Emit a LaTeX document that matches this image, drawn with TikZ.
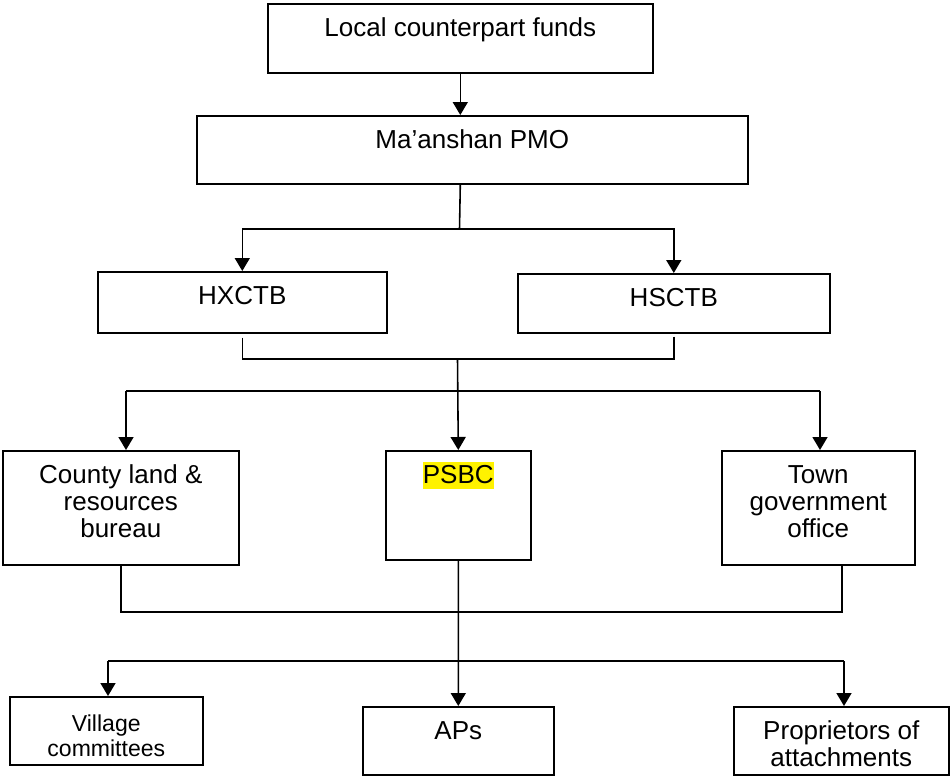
\documentclass[tikz,border=0pt]{standalone}
\usepackage{fontspec}
\setmainfont{Liberation Sans}
\usepackage{xcolor}
\usetikzlibrary{arrows.meta}

% text box with its first line at a fixed depth below the top edge
\newcommand{\boxtxt}[4][0.65cm]{\parbox[t][#3][t]{#2}{\centering\rule{0pt}{#1}#4}}

\begin{document}
\begin{tikzpicture}[
  box/.style = {draw, line width=0.9pt, inner sep=0pt, anchor=north west},
  link/.style = {line width=0.9pt},
  arr/.style = {link, -{Triangle[width=0.3cm,length=0.26cm]}},
  font = \fontsize{14.8pt}{15.4pt}\selectfont
]
% Fix the page size
\useasboundingbox (0,0) rectangle (19,-15.5);

% Funds and PMO
\node[box] (funds) at (5.34,-0.06) {\boxtxt{7.70cm}{1.38cm}{Local counterpart funds}};
\node[box] (pmo) at (3.92,-2.30) {\boxtxt{11.02cm}{1.36cm}{Ma’anshan PMO}};

% The two bureaus
\node[box] (hxctb) at (1.94,-5.42) {\boxtxt{5.78cm}{1.22cm}{HXCTB}};
\node[box] (hsctb) at (10.34,-5.46) {\boxtxt{6.24cm}{1.18cm}{HSCTB}};

% Middle row
\node[box] (county) at (0.04,-9.00) {\boxtxt{4.72cm}{2.28cm}{County land \&\\ resources\\ bureau}};
\node[box] (psbc) at (7.70,-9.00) {\boxtxt{2.90cm}{2.18cm}{\setlength{\fboxsep}{0pt}\colorbox{yellow}{\rule[-0.11cm]{0pt}{0.54cm}PSBC}}};
\node[box] (town) at (14.42,-9.00) {\boxtxt{3.86cm}{2.28cm}{Town\\ government\\ office}};

% Bottom row
\node[box] (village) at (0.18,-13.92) {\fontsize{13.1pt}{14.2pt}\selectfont\boxtxt[0.70cm]{3.86cm}{1.36cm}{Village\\ committees}};
\node[box] (aps) at (7.24,-14.12) {\boxtxt{3.82cm}{1.36cm}{APs}};
\node[box] (propr) at (14.66,-14.12) {\boxtxt{4.30cm}{1.36cm}{Proprietors of\\ attachments}};

% Funds to PMO
\draw[arr] (funds.south) -- (funds.south |- pmo.north);

% PMO to the bureaus
\coordinate (split) at (9.19,-4.58);
\draw[link] (funds.south |- pmo.south) -- (split);
\draw[arr] (split) -| (hxctb.north);
\draw[arr] (split) -| (hsctb.north);

% Bureaus to PSBC
\coordinate (join) at (9.15,-7.18);
\draw[link, shorten <=0.08cm] (hxctb.south) |- (join);
\draw[link, shorten <=0.06cm] (hsctb.south) |- (join);
\draw[arr] (join) -- (psbc.north);

% Line to the county and the town
\coordinate (left1) at (2.52,-7.82);
\coordinate (right1) at (16.40,-7.82);
\draw[link] (left1) -- (right1);
\draw[arr] (left1) -- (left1 |- county.north);
\draw[arr] (right1) -- (right1 |- town.north);

% Bracket under county and town
\coordinate (join2) at (16.84,-12.24);
\draw[link] (county.south) |- (join2) -- (join2 |- town.south);

% PSBC to the bottom row
\draw[arr] (psbc.south) -- (aps.north);
\coordinate (left2) at (2.16,-13.22);
\coordinate (right2) at (16.88,-13.22);
\draw[link] (left2) -- (right2);
\draw[arr] (left2) -- (left2 |- village.north);
\draw[arr] (right2) -- (right2 |- propr.north);

\end{tikzpicture}
\end{document}
